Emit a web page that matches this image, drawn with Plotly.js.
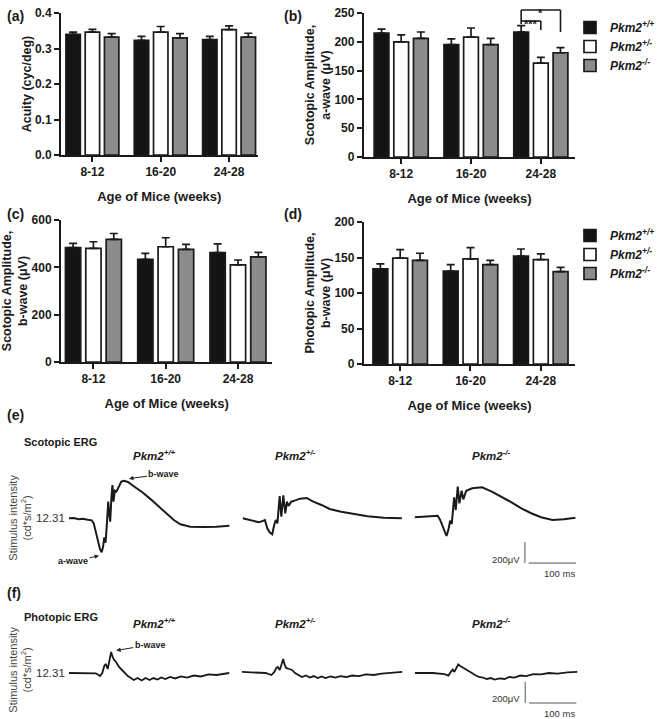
<!DOCTYPE html>
<html><head><meta charset="utf-8">
<script src="https://cdn.plot.ly/plotly-3.0.1.min.js"></script>
<style>html,body{margin:0;padding:0;background:#fff}#chart{width:660px;height:719px}</style>
</head><body><div id="chart"></div>
<script>
// ---------------- data ----------------
const ageGroups = ['8-12', '16-20', '24-28'];
const genoNames = ['Pkm2<sup>+/+</sup>', 'Pkm2<sup>+/-</sup>', 'Pkm2<sup>-/-</sup>'];
const genoColors = ['#141414', '#ffffff', '#8c8c8c'];

// (a) visual acuity (cyc/deg), mean and SEM
const acuityWT = [0.340, 0.323, 0.325];   const acuityWTErr = [0.006, 0.011, 0.009];
const acuityHet = [0.346, 0.346, 0.353];  const acuityHetErr = [0.008, 0.016, 0.011];
const acuityKO = [0.332, 0.330, 0.332];   const acuityKOErr = [0.010, 0.012, 0.011];
// (b) scotopic a-wave (uV)
const scotAWT = [215, 195, 217];  const scotAWTErr = [7, 10, 11];
const scotAHet = [200, 208, 163]; const scotAHetErr = [12, 16, 10];
const scotAKO = [206, 195, 181];  const scotAKOErr = [11, 11, 9];
// (c) scotopic b-wave (uV)
const scotBWT = [483, 434, 462];  const scotBWTErr = [18, 25, 37];
const scotBHet = [480, 487, 410]; const scotBHetErr = [28, 38, 21];
const scotBKO = [518, 476, 444];  const scotBKOErr = [25, 21, 19];
// (d) photopic b-wave (uV)
const photBWT = [134, 131, 152];  const photBWTErr = [7, 9, 10];
const photBHet = [149, 148, 147]; const photBHetErr = [12, 16, 8];
const photBKO = [146, 140, 130];  const photBKOErr = [10, 6, 6];

// (e) representative scotopic ERG traces: time (ms), amplitude (uV)
const scotWT_ms = [0,10,20.8,30,40,48.5,52.6,56.8,60.9,65.9,69.3,72.2,74.9,77.6,80.5,83.2,85.3,87.4,90.1,92.2,94.3,97.2,100.6,105.5,110.9,116.5,124.8,138.7,156,173.3,190.7,208,221.9,235.7,256.5,284.4,312,339.4];
const scotWT_uV = [-3,0,-12,-8,-17,-22,-51,-130,-225,-297,-325,-278,-184,-235,-51,155,44,-35,202,313,155,259,250,297,345,354,342,297,243,177,108,36,-19,-60,-83,-86,-83,-73];
const scotHet_ms = [0,17.3,34.7,47.2,52.2,57.6,62.6,66.8,70.1,73.6,78.4,81.9,86.1,90.3,93.8,97.1,102.8,109.7,121.6,135.5,149.3,166.7,184,208.3,236.2,263.8,298.5,336.6];
const scotHet_uV = [-3,-19,-41,-19,-98,-139,-155,-67,-19,-51,209,13,215,44,155,114,155,165,184,190,155,124,86,60,35,16,3,-3];
const scotKO_ms = [0,24.1,48.5,53.4,59,63.8,67.3,71.5,75,78.4,83.4,86.8,91,94.5,99.3,102.8,109,121.5,142.3,163.1,183.9,204.7,225.5,246.3,267.1,291.4,315.5,339.8];
const scotKO_uV = [7,12,22,-13,-76,-139,-171,-108,-25,-57,196,76,298,139,259,177,259,282,291,250,203,149,92,45,7,-19,-12,3];
// (f) representative photopic ERG traces
const photWT_ms = [0,31.2,57.2,65.9,70.7,74.9,78,82.2,86.3,89.4,92.6,95.7,99.8,106.1,114.4,124.8,137.3,145.6,153.9,162.2,170.6,178.9,187.2,195.5,203.8,214.2,224.6,237.1,249.6,264.2,278.7,295.4,312,326.6,339];
const photWT_uV = [0,-5,-3,-29,0,67,86,38,133,200,152,124,105,57,19,-29,-67,-48,-71,-48,-67,-48,-62,-43,-57,-38,-52,-33,-43,-24,-33,-14,-19,-5,0];
const photHet_ms = [0,29.1,49.9,62.4,68.6,72.8,75.9,80,84.2,87.4,90.5,93.6,99.8,106.1,112.3,118.6,126.9,135.2,143.5,151.8,160.2,168.5,176.8,187.2,197.6,208,220.5,233,247.5,262.1,278.7,295.4,316.2,339];
const photHet_uV = [10,5,0,-19,10,48,57,29,95,133,76,48,38,29,0,-19,-38,-24,-43,-29,-48,-33,-48,-33,-43,-29,-38,-24,-29,-14,-19,-5,0,10];
const photKO_ms = [0,37.4,62.4,70.7,76.9,80,83.2,88.4,91.5,95.7,101.9,110.2,118.6,126.9,135.2,143.5,151.8,160.2,168.5,178.9,189.3,199.7,210.1,222.6,235,249.6,266.2,282.9,301.6,322.4,343.2];
const photKO_uV = [0,0,-10,-24,19,33,10,57,81,67,52,29,5,-19,-38,-43,-57,-48,-62,-52,-57,-38,-43,-24,-29,-10,-14,0,-5,5,10];

const SCALE_UV = 200, SCALE_MS = 100;
const stimLabel = '12.31';

// ---------------- helpers ----------------
const W = 660, H = 719;
const F = 'Liberation Sans, Arial, Helvetica, sans-serif';
const INK = '#1a1a1a';
const fx = p => p / W;
const fy = p => 1 - p / H;

const BARGAP = 0.155, GROUPGAP = 0.25;
const SLOT = (1 - BARGAP) / 3;
const TICK_SIZE = 12, TITLE_SIZE = 12.5;

function barTraces(xa, ya, means, errs, legendId, show) {
  return means.map((m, i) => ({
    type: 'bar', x: ageGroups, y: m, xaxis: xa, yaxis: ya, name: genoNames[i],
    marker: {color: genoColors[i], line: {color: INK, width: 1.7}},
    error_y: {type: 'data', symmetric: false, array: errs[i], arrayminus: errs[i].map(() => 0),
              color: INK, thickness: 1.7, width: 4},
    showlegend: show, legend: legendId, hoverinfo: 'skip'
  }));
}
function ergTrace(xa, ya, ms, uv, w) {
  return {type: 'scatter', mode: 'lines', x: ms, y: uv, xaxis: xa, yaxis: ya,
          line: {color: INK, width: w, shape: 'linear'}, showlegend: false, hoverinfo: 'skip'};
}
function yAxis(dom, range, dtick, fmt, title, anchor) {
  return {domain: dom, range: range, dtick: dtick, tick0: 0, tickformat: fmt, anchor: anchor,
    showline: true, linecolor: INK, linewidth: 2, ticks: 'outside', ticklen: 5, tickwidth: 2, tickcolor: INK,
    showgrid: false, zeroline: false, fixedrange: true, automargin: false,
    tickfont: {family: F, size: TICK_SIZE, color: INK, weight: 'bold'},
    title: {text: title, font: {family: F, size: TITLE_SIZE, color: INK, weight: 'bold'}, standoff: 1}};
}
function xAxis(dom, range, anchor) {
  return {domain: dom, range: range, type: 'category', anchor: anchor,
    showline: true, linecolor: INK, linewidth: 2, ticks: 'outside', ticklen: 5, tickwidth: 2, tickcolor: INK,
    showgrid: false, zeroline: false, fixedrange: true, automargin: false,
    tickfont: {family: F, size: TICK_SIZE, color: INK, weight: 'bold'},
    title: {text: 'Age of Mice (weeks)', font: {family: F, size: TITLE_SIZE + 0.5, color: INK, weight: 'bold'}, standoff: 13}};
}
function hidden(dom, range, anchor) {
  return {domain: dom, range: range, visible: false, fixedrange: true, anchor: anchor};
}

// ---------------- traces ----------------
let data = [];
data = data.concat(barTraces('x', 'y', [acuityWT, acuityHet, acuityKO], [acuityWTErr, acuityHetErr, acuityKOErr], 'legend', false));
data = data.concat(barTraces('x2', 'y2', [scotAWT, scotAHet, scotAKO], [scotAWTErr, scotAHetErr, scotAKOErr], 'legend', true));
data = data.concat(barTraces('x3', 'y3', [scotBWT, scotBHet, scotBKO], [scotBWTErr, scotBHetErr, scotBKOErr], 'legend2', false));
data = data.concat(barTraces('x4', 'y4', [photBWT, photBHet, photBKO], [photBWTErr, photBHetErr, photBKOErr], 'legend2', true));

data.push(ergTrace('x5', 'y5', scotWT_ms, scotWT_uV, 2));
data.push(ergTrace('x6', 'y6', scotHet_ms, scotHet_uV, 2));
data.push(ergTrace('x7', 'y7', scotKO_ms, scotKO_uV, 2));
data.push(ergTrace('x8', 'y8', photWT_ms, photWT_uV, 1.8));
data.push(ergTrace('x9', 'y9', photHet_ms, photHet_uV, 1.8));
data.push(ergTrace('x10', 'y10', photKO_ms, photKO_uV, 1.8));

// scale bars (in the last trace's axes)
const sbE = {x: 233, y: -228}, sbF = {x: 233, y: -85};
function scaleBar(xa, ya, sb) {
  return {type: 'scatter', mode: 'lines', xaxis: xa, yaxis: ya, showlegend: false, hoverinfo: 'skip',
    x: [sb.x, sb.x, null, sb.x + 8, sb.x + 8 + SCALE_MS],
    y: [sb.y, sb.y - SCALE_UV, null, sb.y - SCALE_UV, sb.y - SCALE_UV],
    line: {color: '#555', width: 1}};
}
data.push(scaleBar('x7', 'y7', sbE));
data.push(scaleBar('x10', 'y10', sbF));

// ---------------- layout ----------------
const ERG_MS = [0, 345];
const eY = [fy(575), fy(470)], eRange = [-541.5, 456];
const fY = [fy(710), fy(640)], fRange = [-351.5, 313.5];

const rangeB = [-0.535, 2.493];
const legendFont = {family: F, size: 12, color: INK, weight: 'bold', style: 'italic'};
const layout = {
  width: W, height: H, margin: {l: 0, r: 0, t: 0, b: 0}, autosize: false,
  paper_bgcolor: '#fff', plot_bgcolor: 'rgba(0,0,0,0)',
  font: {family: F, color: INK},
  barmode: 'group', bargap: BARGAP, bargroupgap: GROUPGAP,
  xaxis: xAxis([fx(62), fx(262)], [-0.46, 2.418], 'y'),
  yaxis: yAxis([fy(155), fy(13)], [0, 0.4], 0.1, '.1f', 'Acuity (cyc/deg)', 'x'),
  xaxis2: xAxis([fx(370), fx(585)], rangeB, 'y2'),
  yaxis2: yAxis([fy(157), fy(13)], [0, 250], 50, 'd', 'Scotopic Amplitude,<br>a-wave (μV)', 'x2'),
  xaxis3: xAxis([fx(62), fx(277)], [-0.449, 2.476], 'y3'),
  yaxis3: yAxis([fy(362), fy(220)], [0, 600], 200, 'd', 'Scotopic Amplitude,<br>b-wave (μV)', 'x3'),
  xaxis4: xAxis([fx(370), fx(585)], [-0.517, 2.49], 'y4'),
  yaxis4: yAxis([fy(364), fy(222)], [0, 200], 50, 'd', 'Photopic Amplitude,<br>b-wave (μV)', 'x4'),
  xaxis5: hidden([fx(70), fx(236)], ERG_MS, 'y5'),   yaxis5: hidden(eY, eRange, 'x5'),
  xaxis6: hidden([fx(246.7), fx(412.7)], ERG_MS, 'y6'), yaxis6: hidden(eY, eRange, 'x6'),
  xaxis7: hidden([fx(421.7), fx(587.7)], ERG_MS, 'y7'), yaxis7: hidden(eY, eRange, 'x7'),
  xaxis8: hidden([fx(70), fx(236)], ERG_MS, 'y8'),   yaxis8: hidden(fY, fRange, 'x8'),
  xaxis9: hidden([fx(246), fx(412)], ERG_MS, 'y9'),  yaxis9: hidden(fY, fRange, 'x9'),
  xaxis10: hidden([fx(422), fx(588)], ERG_MS, 'y10'), yaxis10: hidden(fY, fRange, 'x10'),
  legend: {x: fx(580), y: fy(13), xanchor: 'left', yanchor: 'top', bgcolor: 'rgba(0,0,0,0)',
           font: legendFont, tracegroupgap: 0},
  legend2: {x: fx(580), y: fy(221), xanchor: 'left', yanchor: 'top', bgcolor: 'rgba(0,0,0,0)',
           font: legendFont, tracegroupgap: 0},
  shapes: [], annotations: []
};

// significance brackets on (b), 24-28 group
const domFrac = c => (c - rangeB[0]) / (rangeB[1] - rangeB[0]);
const cWT = 2 - SLOT, cHet = 2, cKO = 2 + SLOT;
const yFrac = py => (157 - py) / (157 - 13);
function seg(x0, y0, x1, y1) {
  return {type: 'line', xref: 'x2 domain', yref: 'y2 domain', x0: domFrac(x0), x1: domFrac(x1), y0: yFrac(y0), y1: yFrac(y1),
          line: {color: INK, width: 1.6}};
}
layout.shapes.push(seg(cWT, 10, cWT, 24), seg(cWT, 21, cHet, 21), seg(cHet, 21, cHet, 30),
                   seg(cWT, 10, cKO, 10), seg(cKO, 10, cKO, 32));

function txt(text, x, y, size, opts) {
  return Object.assign({text: text, x: fx(x), y: fy(y), xref: 'paper', yref: 'paper', showarrow: false,
    xanchor: 'center', yanchor: 'middle', font: {family: F, size: size, color: INK}}, opts || {});
}
const A = layout.annotations;
A.push({text: '***', xref: 'x2', yref: 'paper', x: (cWT + cHet) / 2, y: fy(16), showarrow: false,
        font: {family: F, size: 11, color: INK, weight: 'bold'}});
A.push({text: '*', xref: 'x2', yref: 'paper', x: (cWT + cKO) / 2, y: fy(5), showarrow: false,
        font: {family: F, size: 11, color: INK, weight: 'bold'}});

// panel letters
[['(a)', 5, 16], ['(b)', 287, 16], ['(c)', 5, 214], ['(d)', 287, 214], ['(e)', 5, 415], ['(f)', 5, 593]].forEach(p =>
  A.push(txt('<b>' + p[0] + '</b>', p[1], p[2], 14, {xanchor: 'left'})));

// ERG labels
A.push(txt('<b>Scotopic ERG</b>', 22, 442, 11, {xanchor: 'left'}));
A.push(txt('<b>Photopic ERG</b>', 22, 617, 11, {xanchor: 'left'}));
const gx = [157, 300, 500];
genoNames.forEach((g, i) => {
  A.push(txt('<b><i>' + g + '</i></b>', gx[i], 455, 11.5));
  A.push(txt('<b><i>' + g + '</i></b>', gx[i], 623, 11.5));
});
[518, 670].forEach(y => {
  A.push(txt('Stimulus intensity<br>(cd*s/m<sup>2</sup>)', 20, y, 11, {textangle: -90, font: {family: F, size: 11, color: '#444'}}));
});
A.push(txt(stimLabel, 68, 518, 11.5, {xanchor: 'right', font: {family: F, size: 11.5, color: '#333'}}));
A.push(txt(stimLabel, 68, 673, 11.5, {xanchor: 'right', font: {family: F, size: 11.5, color: '#333'}}));
// scale bar labels
[[559, 573], [698, 713]].forEach(r => {
  A.push(txt('200μV', 531, r[0], 9.5, {xanchor: 'right', font: {family: F, size: 9.5, color: '#333'}}));
  A.push(txt('100 ms', 587, r[1], 9.5, {xanchor: 'right', font: {family: F, size: 9.5, color: '#333'}}));
});
// wave markers
function arrowNote(text, xa, ya, x, y, ax, ay) {
  return {text: '<b>' + text + '</b>', xref: xa, yref: ya, x: x, y: y, ax: ax, ay: ay, showarrow: true,
    arrowhead: 2, arrowsize: 0.9, arrowwidth: 1, arrowcolor: '#222', standoff: 1,
    font: {family: F, size: 9, color: INK}};
}
A.push(arrowNote('b-wave', 'x5', 'y5', 125, 372, 36, -5));
A.push(arrowNote('a-wave', 'x5', 'y5', 66, -356, -27, 6));
A.push(arrowNote('b-wave', 'x8', 'y8', 98, 212, 35, -6));

Plotly.newPlot('chart', data, layout, {staticPlot: true, displayModeBar: false});
</script></body></html>
